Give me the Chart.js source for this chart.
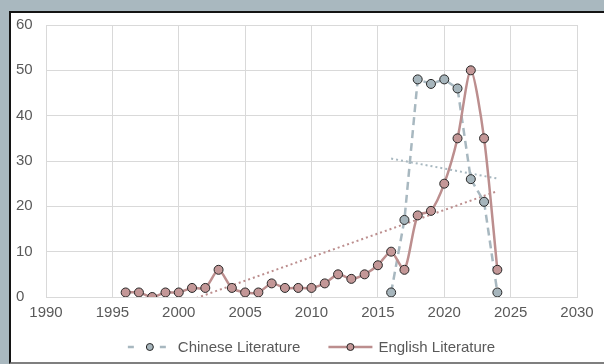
<!DOCTYPE html>
<html>
<head>
<meta charset="utf-8">
<script src="https://cdn.jsdelivr.net/npm/chart.js@4/dist/chart.umd.min.js"></script>
<style>
  body { margin: 0; background: #fff; }
  #frame { position: absolute; left: 0; top: 0; width: 604px; height: 364px; background: #a9b8bf; overflow: hidden; }
  #panel { position: absolute; left: 9px; top: 11px; width: 600px; height: 349px; background: #fff;
           border-left: 2px solid #141414; border-top: 2px solid #141414; border-bottom: 2px solid #7f7f7f; }
  #chart { position: absolute; left: 0; top: 0; }
</style>
</head>
<body>
<div id="frame">
  <div id="panel">
    <canvas id="chart" width="593" height="349"></canvas>
  </div>
</div>
<script>
// Dados
const seriesNames = ["Chinese Literature", "English Literature"];

const chineseYears = [2016, 2017, 2018, 2019, 2020, 2021, 2022, 2023, 2024];
const chineseValues = [1, 17, 48, 47, 48, 46, 26, 21, 1];

const englishYears = [1996, 1997, 1998, 1999, 2000, 2001, 2002, 2003, 2004, 2005,
                      2006, 2007, 2008, 2009, 2010, 2011, 2012, 2013, 2014, 2015,
                      2016, 2017, 2018, 2019, 2020, 2021, 2022, 2023, 2024];
const englishValues = [1, 1, 0, 1, 1, 2, 2, 6, 2, 1,
                       1, 3, 2, 2, 2, 3, 5, 4, 5, 7,
                       10, 6, 18, 19, 25, 35, 50, 35, 6];

const xMin = 1990, xMax = 2030, xStep = 5;
const yMin = 0, yMax = 60, yStep = 10;

const chineseColor = "#a8b8c0";
const chineseFill = "#a6b5bc";
const englishColor = "#bc8e8e";
const englishFill = "#c39797";
const markerBorder = "#262626";
const textColor = "#595959";
const fontFamily = "'Liberation Sans', Arial, sans-serif";

function toPoints(xs, ys) {
    return xs.map((x, i) => ({ x: x, y: ys[i] }));
}

// Linha de tendência linear (mínimos quadrados)
function trendLine(xs, ys) {
    const n = xs.length;
    const mx = xs.reduce((a, b) => a + b, 0) / n;
    const my = ys.reduce((a, b) => a + b, 0) / n;
    let sxy = 0, sxx = 0;
    for (let i = 0; i < n; i++) {
        sxy += (xs[i] - mx) * (ys[i] - my);
        sxx += (xs[i] - mx) * (xs[i] - mx);
    }
    const slope = sxy / sxx;
    const b = my - slope * mx;
    return [{ x: xs[0], y: slope * xs[0] + b }, { x: xs[n - 1], y: slope * xs[n - 1] + b }];
}

const legendItems = [
    { text: seriesNames[0], color: chineseColor, fill: chineseFill, dashed: true },
    { text: seriesNames[1], color: englishColor, fill: englishFill, dashed: false }
];

// Legenda desenhada no estilo do Excel
const excelLegend = {
    id: "excelLegend",
    afterDraw(chart) {
        const ctx = chart.ctx;
        const area = chart.chartArea;
        const symbolW = 44, gap = 6, spacing = 28, y = 334;
        ctx.save();
        ctx.font = "15px " + fontFamily;
        const widths = legendItems.map(it => symbolW + gap + ctx.measureText(it.text).width);
        const total = widths.reduce((a, b) => a + b, 0) + spacing * (legendItems.length - 1);
        let x = (area.left + area.right) / 2 - total / 2;
        legendItems.forEach((it, i) => {
            ctx.strokeStyle = it.color;
            ctx.lineWidth = 2.5;
            ctx.beginPath();
            if (it.dashed) {
                ctx.moveTo(x, y); ctx.lineTo(x + 6, y);
                ctx.moveTo(x + 32, y); ctx.lineTo(x + 38, y);
            } else {
                ctx.moveTo(x, y); ctx.lineTo(x + symbolW, y);
            }
            ctx.stroke();
            ctx.beginPath();
            ctx.arc(x + 22, y, 3.5, 0, Math.PI * 2);
            ctx.fillStyle = it.fill;
            ctx.fill();
            ctx.lineWidth = 1;
            ctx.strokeStyle = markerBorder;
            ctx.stroke();
            ctx.fillStyle = textColor;
            ctx.textAlign = "left";
            ctx.textBaseline = "middle";
            ctx.fillText(it.text, x + symbolW + gap, y + 1);
            x += widths[i] + spacing;
        });
        ctx.restore();
    }
};

const ctx = document.getElementById("chart").getContext("2d");

new Chart(ctx, {
    type: "line",
    data: {
        datasets: [
            {
                label: seriesNames[1] + " trend",
                data: trendLine(englishYears, englishValues),
                borderColor: englishColor,
                borderWidth: 2,
                borderDash: [2, 3],
                pointRadius: 0,
                fill: false,
                order: 2
            },
            {
                label: seriesNames[0] + " trend",
                data: trendLine(chineseYears, chineseValues),
                borderColor: chineseColor,
                borderWidth: 2,
                borderDash: [2, 3],
                pointRadius: 0,
                fill: false,
                order: 3
            },
            {
                label: seriesNames[0],
                data: toPoints(chineseYears, chineseValues),
                borderColor: chineseColor,
                borderWidth: 2.5,
                borderDash: [8, 5],
                tension: 0,
                pointRadius: 4.5,
                pointBackgroundColor: chineseFill,
                pointBorderColor: markerBorder,
                pointBorderWidth: 1,
                fill: false,
                order: 1
            },
            {
                label: seriesNames[1],
                data: toPoints(englishYears, englishValues),
                borderColor: englishColor,
                borderWidth: 2.5,
                tension: 0.25,
                pointRadius: 4.5,
                pointBackgroundColor: englishFill,
                pointBorderColor: markerBorder,
                pointBorderWidth: 1,
                fill: false,
                order: 0
            }
        ]
    },
    options: {
        responsive: false,
        devicePixelRatio: 1,
        animation: false,
        events: [],
        layout: { padding: { left: 5, right: 27, top: 11, bottom: 37 } },
        plugins: {
            legend: { display: false },
            tooltip: { enabled: false }
        },
        scales: {
            x: {
                type: "linear",
                min: xMin,
                max: xMax,
                grid: { color: "#d9d9d9", lineWidth: 1, drawTicks: false },
                border: { color: "#d9d9d9" },
                afterFit: function(scale) { scale.height = 28; },
                ticks: {
                    stepSize: xStep,
                    padding: 7,
                    color: textColor,
                    font: { family: fontFamily, size: 15 },
                    callback: function(value) { return String(value); }
                }
            },
            y: {
                min: yMin,
                max: yMax,
                grid: { color: "#d9d9d9", lineWidth: 1, drawTicks: false },
                border: { color: "#d9d9d9" },
                afterFit: function(scale) { scale.width = 30; },
                ticks: {
                    stepSize: yStep,
                    crossAlign: "far",
                    color: textColor,
                    font: { family: fontFamily, size: 15 }
                }
            }
        }
    },
    plugins: [excelLegend]
});
</script>
</body>
</html>
